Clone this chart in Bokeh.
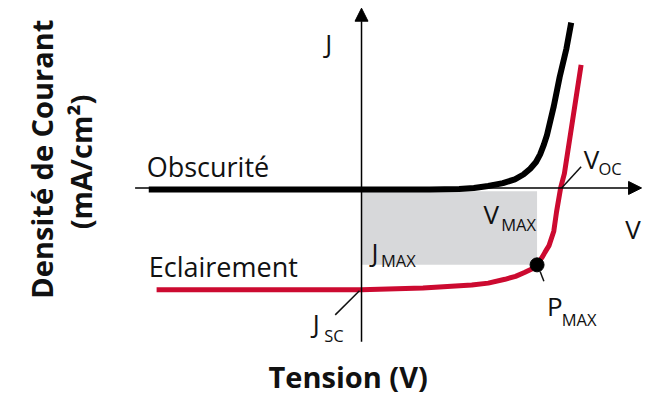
import numpy as np
from bokeh.plotting import figure
from bokeh.models import Range1d, Arrow, NormalHead
from bokeh.embed import file_html
from bokeh.resources import INLINE
from bokeh.core.properties import value

# ---- data (V in volts, J in mA/cm2) ----
v_dark = [-0.623, 0.0, 0.2, 0.286, 0.329, 0.371, 0.414, 0.449, 0.474, 0.494,
          0.511, 0.523, 0.534, 0.543, 0.563, 0.58, 0.6, 0.614]
j_dark = [-0.3, -0.3, -0.3, -0.2, 0.0, 0.4, 1.0, 1.8, 2.8, 4.0,
          5.4, 7.0, 9.0, 11.0, 17.0, 23.0, 29.0, 34.4]

v_light = [-0.6, 0.0, 0.18, 0.323, 0.371, 0.42, 0.451, 0.477, 0.5, 0.514,
           0.529, 0.537, 0.549, 0.563, 0.571, 0.583, 0.594, 0.643]
j_light = [-21.2, -21.2, -20.8, -20.2, -19.8, -19.0, -18.4, -17.6, -16.8, -16.0,
           -14.4, -13.4, -12.0, -9.0, -5.0, 0.0, 3.0, 25.6]

V_OC = 0.583
V_MAX = 0.514
J_SC = -21.2
J_MAX = -16.0

FONT = value("Open Sans")
RED = "#cc0a30"
INK = "#111111"

p = figure(width=644, height=398, output_backend="svg", toolbar_location=None,
           x_axis_type=None, y_axis_type=None, min_border=0,
           x_range=Range1d(-1.0571, 0.8286), y_range=Range1d(-43.8, 39.0))
p.outline_line_color = None
p.background_fill_color = "white"
p.border_fill_color = "white"

# max power rectangle
p.quad(left=[0], right=[V_MAX], bottom=[J_MAX], top=[-0.7],
       fill_color="#d7d8da", line_color=None)

# axes
p.add_layout(Arrow(end=NormalHead(size=13, fill_color="black", line_color="black"),
                   x_start=-0.663, y_start=0, x_end=0.82, y_end=0,
                   line_width=1.5, line_color="black"))
p.add_layout(Arrow(end=NormalHead(size=13, fill_color="black", line_color="black"),
                   x_start=0, y_start=-32, x_end=0, y_end=37.4,
                   line_width=1.5, line_color="black"))

# curves
p.line(v_dark, j_dark, line_color="black", line_width=6)
p.line(v_light, j_light, line_color=RED, line_width=5)
p.scatter([V_MAX], [J_MAX], size=14, color="black")

# leader lines
p.segment(x0=[V_OC + 0.003, -0.077, 0.523], y0=[0, -26.4, -17.4],
          x1=[0.643, -0.006, 0.534], y1=[4.4, J_SC - 0.2, -19.4],
          line_color=INK, line_width=1.5)

# main labels
p.text(x=[-0.629, -0.623], y=[4.4, -16.4], text=["Obscurité", "Eclairement"],
       text_font=FONT, text_font_size="27px", text_color=INK,
       text_align="left", text_baseline="alphabetic")

# symbol labels
p.text(x=[-0.106, 0.772, 0.651, 0.357, 0.029, -0.143, 0.543],
       y=[30.2, -8.6, 6.0, -5.4, -13.4, -28.0, -24.6],
       text=["J", "V", "V", "V", "J", "J", "P"],
       text_font=FONT, text_font_size="26px", text_color=INK,
       text_align="left", text_baseline="alphabetic")
p.text(x=[0.694, 0.409, 0.057, -0.109, 0.586],
       y=[4.0, -7.6, -15.0, -30.6, -27.4],
       text=["OC", "MAX", "MAX", "SC", "MAX"],
       text_font=FONT, text_font_size="16.5px", text_color=INK,
       text_align="left", text_baseline="alphabetic")

# axis titles
p.text(x=[-0.937, -0.824], y=[6.0, 5.4], text=["Densité de Courant", "(mA/cm²)"],
       angle=np.pi / 2, text_font=FONT, text_font_size="29px",
       text_font_style="bold", text_color=INK,
       text_align="center", text_baseline="alphabetic")
p.text(x=[-0.039], y=[-43.2], text=["Tension (V)"],
       text_font=FONT, text_font_size="29px", text_font_style="bold",
       text_color=INK, text_align="center", text_baseline="bottom")

open("out.html", "w").write(file_html(p, INLINE))
